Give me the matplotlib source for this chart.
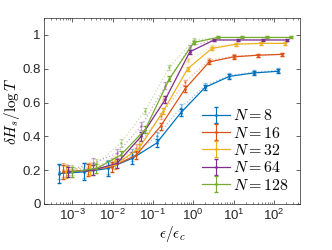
import numpy as np
import matplotlib
matplotlib.use('Agg')
import matplotlib.pyplot as plt
from matplotlib.ticker import LogLocator, NullFormatter

plt.rcParams['mathtext.fontset'] = 'cm'
plt.rcParams['font.family'] = ['Liberation Sans', 'DejaVu Sans']

# data
N_values = [8, 16, 32, 64, 128]
eps = np.array([1, 4, 16, 64, 256, 1024, 4096, 16384, 65536, 262144]) * 1e-3
eps_c = [2.08, 1.65, 1.41, 1.25, 1.0]

# solid curves
H_solid = [
    [0.18, 0.19, 0.21, 0.27, 0.36, 0.54, 0.69, 0.755, 0.775, 0.785],
    [0.19, 0.20, 0.22, 0.29, 0.46, 0.68, 0.84, 0.87, 0.88, 0.885],
    [0.19, 0.20, 0.23, 0.33, 0.55, 0.80, 0.92, 0.945, 0.95, 0.95],
    [0.19, 0.20, 0.24, 0.40, 0.62, 0.90, 0.97, 0.97, 0.97, 0.97],
    [0.19, 0.21, 0.29, 0.44, 0.74, 0.955, 0.985, 0.985, 0.985, 0.985],
]
err_solid = [
    [0.055, 0.05, 0.045, 0.035, 0.025, 0.02, 0.015, 0.015, 0.012, 0.012],
    [0.04, 0.035, 0.03, 0.025, 0.02, 0.015, 0.012, 0.01, 0.01, 0.01],
    [0.035, 0.03, 0.025, 0.025, 0.02, 0.012, 0.01, 0.01, 0.01, 0.008],
    [0.03, 0.03, 0.025, 0.025, 0.02, 0.012, 0.008, 0.008, 0.008, 0.008],
    [0.03, 0.025, 0.025, 0.02, 0.015, 0.01, 0.006, 0.006, 0.006, 0.006],
]

# dotted curves
H_dot = [
    [0.19, 0.20, 0.22, 0.29, 0.40, 0.57, 0.70, 0.76, 0.78, 0.79],
    [0.20, 0.21, 0.24, 0.33, 0.52, 0.72, 0.85, 0.875, 0.88, 0.885],
    [0.20, 0.22, 0.26, 0.38, 0.62, 0.85, 0.93, 0.945, 0.95, 0.95],
    [0.20, 0.24, 0.30, 0.46, 0.70, 0.93, 0.97, 0.97, 0.97, 0.97],
    [0.20, 0.24, 0.36, 0.55, 0.81, 0.97, 0.985, 0.985, 0.985, 0.985],
]
err_dot = [
    [0.04, 0.045, 0.04, 0.035, 0.025, 0.02, 0.015, 0.015, 0.012, 0.012],
    [0.04, 0.035, 0.03, 0.025, 0.02, 0.015, 0.012, 0.01, 0.01, 0.01],
    [0.035, 0.03, 0.025, 0.025, 0.02, 0.012, 0.01, 0.01, 0.01, 0.008],
    [0.03, 0.03, 0.025, 0.025, 0.02, 0.012, 0.008, 0.008, 0.008, 0.008],
    [0.03, 0.025, 0.025, 0.02, 0.015, 0.01, 0.006, 0.006, 0.006, 0.006],
]

colors = ['#0072BD', '#D95319', '#EDB120', '#7E2F8E', '#77AC30']

fig = plt.figure(figsize=(3.32, 2.5), dpi=100)
ax = fig.add_axes([0.1325, 0.184, 0.771, 0.744])

handles = []
for i, N in enumerate(N_values):
    x = eps / eps_c[i]
    ax.errorbar(x, H_dot[i], yerr=err_dot[i], color=colors[i], alpha=0.4,
                linestyle=':', linewidth=0.9, capsize=1.5, elinewidth=0.8,
                marker='.', markersize=2)
    h = ax.errorbar(x, H_solid[i], yerr=err_solid[i], color=colors[i],
                    linestyle='-', linewidth=0.9, capsize=1.5, elinewidth=0.8,
                    marker='.', markersize=2, label='$N = %d$' % N)
    handles.append(h)

ax.set_xscale('log')
ax.set_xlim(2e-4, 4.4e2)
ax.set_ylim(0, 1.1)
ax.set_yticks([0, 0.2, 0.4, 0.6, 0.8, 1])
ax.set_yticklabels(['0', '0.2', '0.4', '0.6', '0.8', '1'])
ax.xaxis.set_major_locator(LogLocator(base=10, numticks=12))
ax.xaxis.set_minor_locator(LogLocator(base=10, subs=np.arange(2, 10), numticks=12))
ax.xaxis.set_minor_formatter(NullFormatter())

ax.tick_params(which='both', direction='in', top=True, right=True,
               colors='#262626', labelsize=9.5, pad=2.5)
ax.tick_params(which='major', length=3, width=0.5)
ax.tick_params(which='minor', length=1.5, width=0.4)
for sp in ax.spines.values():
    sp.set_color('#262626')
    sp.set_linewidth(0.5)

ax.set_xlabel(r'$\epsilon/\epsilon_c$', fontsize=11, labelpad=1)
ax.set_ylabel(r'$\delta H_s/\log T$', fontsize=11, labelpad=0)

leg = ax.legend(handles=handles, loc='lower right', frameon=False,
                fontsize=11.5, handlelength=1.7, handletextpad=0.2,
                labelspacing=0.15, borderaxespad=0.3)

fig.savefig('out.png', dpi=100)
